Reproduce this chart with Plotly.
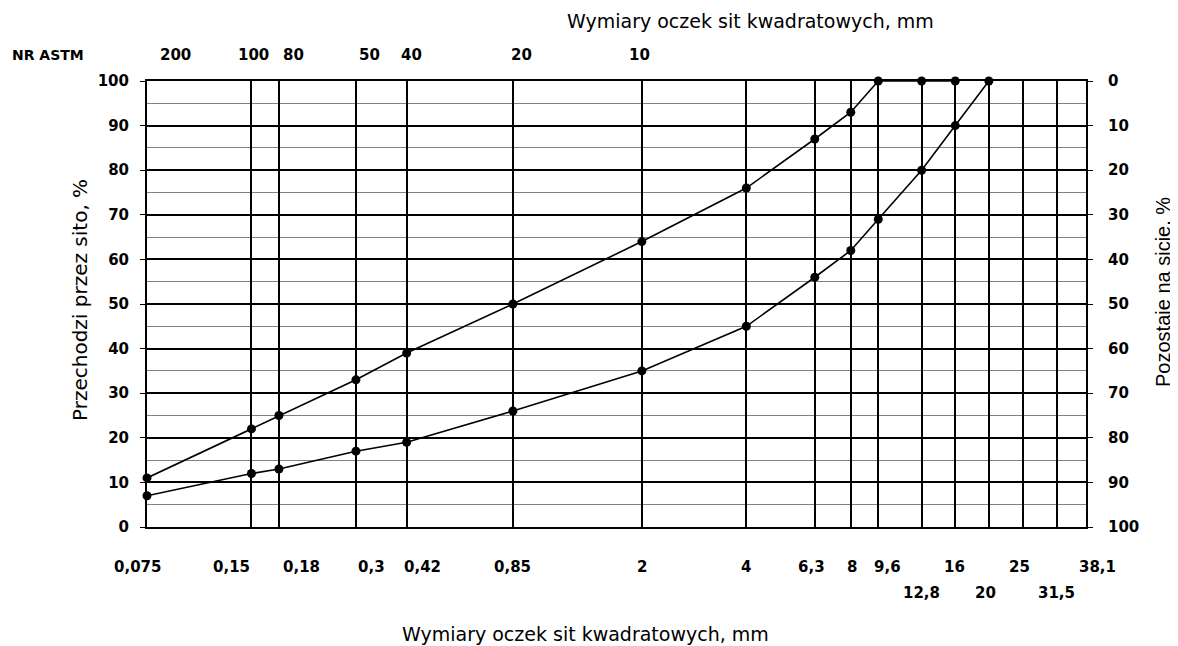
import numpy as np
import plotly.graph_objects as go

# sieve sizes (mm) and bottom tick labels
sieves = [0.075, 0.15, 0.18, 0.3, 0.42, 0.85, 2, 4, 6.3, 8, 9.6, 12.8, 16, 20, 25, 31.5, 38.1]
sieve_labels = ["0,075", "0,15", "0,18", "0,3", "0,42", "0,85", "2", "4", "6,3", "8", "9,6",
                "12,8", "16", "20", "25", "31,5", "38,1"]
sieve_row = [1, 1, 1, 1, 1, 1, 1, 1, 1, 1, 1, 2, 1, 2, 1, 2, 1]
sieve_shift = [-10, -20, 23, 16, 16, 0, 0, 0, -3, 1, 9, 0, -1, -3, -3, -1, 11]

# ASTM sieve numbers (top row)
astm_sizes = [0.075, 0.15, 0.18, 0.3, 0.42, 0.85, 2]
astm_labels = ["200", "100", "80", "50", "40", "20", "10"]
astm_shift = [28, 2, 15, 14, 5, 9, -2]

# grading curves (passing, %)
fine_x = [0.075, 0.15, 0.18, 0.3, 0.42, 0.85, 2, 4, 6.3, 8, 9.6, 12.8, 16]
fine_y = [11, 22, 25, 33, 39, 50, 64, 76, 87, 93, 100, 100, 100]
coarse_x = [0.075, 0.15, 0.18, 0.3, 0.42, 0.85, 2, 4, 6.3, 8, 9.6, 12.8, 16, 20]
coarse_y = [7, 12, 13, 17, 19, 26, 35, 45, 56, 62, 69, 80, 90, 100]

FONT = "DejaVu Sans, Arial, sans-serif"
BOLD = dict(family="DejaVu Sans, Arial, sans-serif", size=15, weight="bold")
xr = [np.log10(0.075), np.log10(38.1)]

# page offset of the figure (body margin) is 8 px; plot area in page px
PX0, PY0, PW, PH = 147, 81, 939, 446
def px(X):
    return (X - PX0) / PW
def py(Y):
    return 1 - (Y - PY0) / PH

fig = go.Figure()
for xs, ys in [(fine_x, fine_y), (coarse_x, coarse_y)]:
    fig.add_trace(go.Scatter(x=xs, y=ys, mode="lines+markers",
                             line=dict(color="black", width=1.6),
                             marker=dict(color="black", size=9),
                             showlegend=False, cliponaxis=False))
# invisible trace to activate the right axis
fig.add_trace(go.Scatter(x=[0.1], y=[50], yaxis="y2", mode="markers",
                         marker=dict(opacity=0), showlegend=False, hoverinfo="skip"))

fig.update_layout(
    width=1170, height=638,
    margin=dict(l=PX0 - 8, r=1170 - (PX0 + PW - 8), t=PY0 - 8, b=638 - (PY0 + PH - 8)),
    paper_bgcolor="white", plot_bgcolor="white",
    font=dict(family=FONT, color="black", size=16),
    xaxis=dict(type="log", range=xr, tickvals=sieves, showticklabels=False,
               automargin=False,
               showgrid=True, gridcolor="black", gridwidth=2.2,
               showline=True, linecolor="black", linewidth=2, mirror=True,
               ticks="", zeroline=False),
    yaxis=dict(range=[0, 100], dtick=10, showgrid=True, gridcolor="black", gridwidth=1.6,
               automargin=False,
               minor=dict(dtick=5, showgrid=True, gridcolor="#808080", gridwidth=1),
               showline=True, linecolor="black", linewidth=2,
               ticks="outside", ticklen=5, tickcolor="black", zeroline=False,
               ticklabelstandoff=8, tickfont=BOLD),
    yaxis2=dict(range=[100, 0], dtick=10, overlaying="y", side="right", showgrid=False,
                automargin=False,
                showline=True, linecolor="black", linewidth=2,
                ticks="outside", ticklen=5, tickcolor="black", zeroline=False,
                ticklabelstandoff=12, tickfont=BOLD),
)

# bottom sieve-size labels (two rows)
for v, t, r, s in zip(sieves, sieve_labels, sieve_row, sieve_shift):
    fig.add_annotation(text=t, x=np.log10(v), xref="x", y=py(567 if r == 1 else 593),
                       yref="paper", xshift=s, showarrow=False,
                       xanchor="center", yanchor="middle", font=BOLD)
# top ASTM labels
for v, t, s in zip(astm_sizes, astm_labels, astm_shift):
    fig.add_annotation(text=t, x=np.log10(v), xref="x", y=py(55), yref="paper",
                       xshift=s, showarrow=False, xanchor="center", yanchor="middle",
                       font=BOLD)

fig.add_annotation(text="NR ASTM", xref="paper", yref="paper",
                   x=px(10), y=py(55), showarrow=False,
                   font=dict(family=FONT, size=14, weight="bold"),
                   xanchor="left", yanchor="middle")
fig.add_annotation(text="Wymiary oczek sit kwadratowych, mm", xref="paper", yref="paper",
                   x=px(750), y=py(21), showarrow=False,
                   font=dict(size=19), xanchor="center", yanchor="middle")
fig.add_annotation(text="Wymiary oczek sit kwadratowych, mm", xref="paper", yref="paper",
                   x=px(585), y=py(634), showarrow=False,
                   font=dict(size=19), xanchor="center", yanchor="middle")
fig.add_annotation(text="Przechodzi przez sito, %", xref="paper", yref="paper",
                   x=px(80), y=py(300), showarrow=False, textangle=-90,
                   font=dict(size=20), xanchor="center", yanchor="middle")
fig.add_annotation(text="Pozostaje na sicie, %", xref="paper", yref="paper",
                   x=px(1163), y=py(292), showarrow=False, textangle=-90,
                   font=dict(size=20, family="Liberation Sans Narrow, Arial Narrow, Arial"),
                   xanchor="center", yanchor="middle")

fig.write_html("out.html")
